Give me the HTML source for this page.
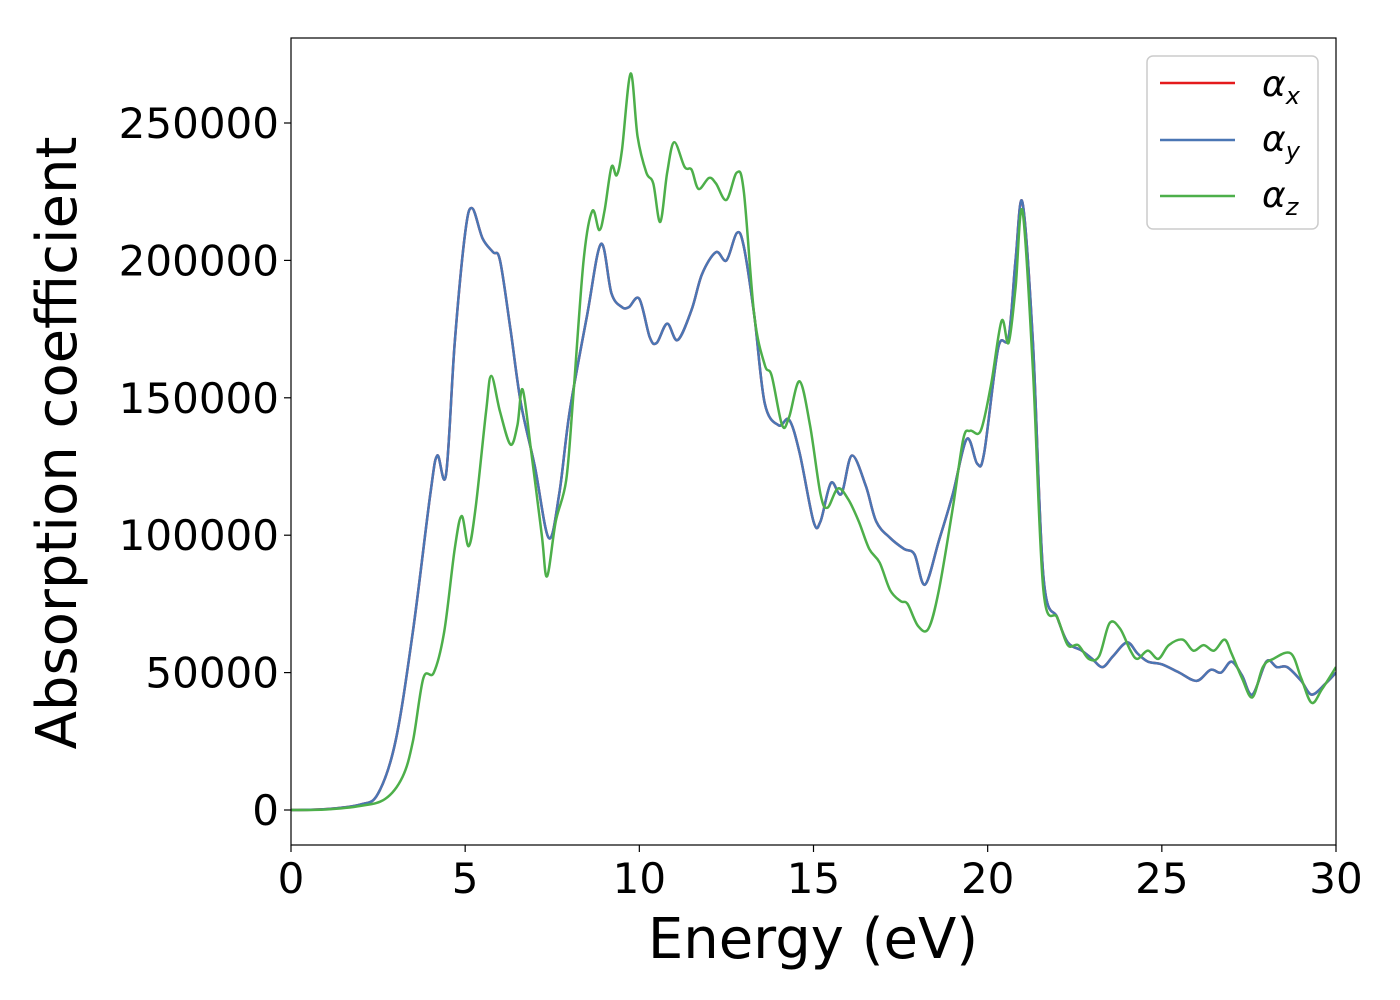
<!DOCTYPE html>
<html><head><meta charset="utf-8"><style>
body{margin:0;background:#fff;}
svg{display:block;font-family:"DejaVu Sans","Liberation Sans",sans-serif;}
</style></head><body>
<svg id="chart" width="1400" height="1000">
<rect x="0" y="0" width="1400" height="1000" fill="#fff"/>
<g id="plot"></g>
<g id="axes"></g>
<text x="813" y="958" font-size="56" text-anchor="middle">Energy (eV)</text>
<text transform="translate(76,443) rotate(-90)" font-size="56" text-anchor="middle">Absorption coefficient</text>
<g>
<rect x="1147" y="56" width="171" height="173" rx="6" fill="#fff" stroke="#ccc" stroke-width="1.5"/>
<g><line x1="1160" y1="83" x2="1235" y2="83" stroke="#e41a1c" stroke-width="2.5"/><text x="1262" y="96" font-size="36" font-style="italic">α<tspan font-size="24" dy="8">x</tspan></text></g>
<g><line x1="1160" y1="140" x2="1235" y2="140" stroke="#4a76b4" stroke-width="2.5"/><text x="1262" y="151" font-size="36" font-style="italic">α<tspan font-size="24" dy="8">y</tspan></text></g>
<g><line x1="1160" y1="196" x2="1235" y2="196" stroke="#4daf4a" stroke-width="2.5"/><text x="1262" y="207" font-size="36" font-style="italic">α<tspan font-size="24" dy="8">z</tspan></text></g>
</g>
</svg>
<script>
const energyXY=[0,1,2,2.5,3,3.5,4,4.2,4.45,4.7,5.0,5.2,5.5,5.8,6.0,6.3,6.6,7.0,7.4,7.7,8.0,8.5,8.9,9.2,9.5,9.7,10.0,10.3,10.5,10.8,11.1,11.5,11.8,12.2,12.5,12.8,13.0,13.3,13.6,14.0,14.3,14.6,15.0,15.2,15.5,15.8,16.1,16.5,16.8,17.2,17.6,17.9,18.2,18.6,19.0,19.4,19.7,19.9,20.3,20.6,20.8,21.0,21.3,21.6,22.0,22.3,22.7,23.0,23.3,23.6,24.0,24.3,24.6,25.0,25.5,26.0,26.4,26.7,27.0,27.3,27.6,28.0,28.3,28.6,29.0,29.3,29.7,30];
const alphaX=[0,300,2000,6000,25000,65000,115000,129000,122000,170000,210000,219000,208000,203000,200000,175000,148000,125000,99000,115000,145000,180000,206000,188000,183000,183000,186000,172000,170000,177000,171000,182000,195000,203000,200000,210000,205000,180000,148000,140000,142000,130000,105000,105000,119000,115000,129000,118000,105000,99000,95000,93000,82000,98000,115000,135000,126000,130000,168000,172000,200000,221000,170000,85000,70000,61000,58000,55000,52000,56000,61000,57000,54000,53000,50000,47000,51000,50000,54000,49000,42000,54000,52000,52000,47000,42000,46000,50000];
const alphaY=alphaX.slice();
const energyZ=[0,1,2,2.7,3.2,3.5,3.8,4.1,4.4,4.7,4.9,5.1,5.3,5.6,5.75,6.0,6.3,6.5,6.65,6.9,7.2,7.35,7.6,7.9,8.1,8.4,8.65,8.85,9.0,9.2,9.35,9.5,9.75,9.95,10.2,10.4,10.6,10.8,11.0,11.3,11.5,11.7,12.0,12.2,12.5,12.8,13.0,13.3,13.6,13.8,14.1,14.3,14.6,14.9,15.2,15.4,15.7,16.0,16.3,16.6,16.9,17.2,17.5,17.7,18.0,18.3,18.6,19.0,19.3,19.5,19.8,20.1,20.4,20.6,20.8,21.0,21.3,21.6,22.0,22.3,22.6,22.9,23.2,23.5,23.8,24.1,24.3,24.6,24.9,25.2,25.6,25.9,26.2,26.5,26.8,27.0,27.3,27.6,27.9,28.2,28.7,29.0,29.3,29.6,30];
const alphaZ=[0,200,1500,4000,12000,25000,48000,50000,65000,95000,107000,96000,110000,145000,158000,145000,133000,140000,153000,130000,100000,85000,105000,120000,150000,200000,218000,211000,218000,234000,231000,240000,268000,245000,232000,228000,214000,232000,243000,234000,233000,226000,230000,228000,222000,232000,225000,180000,162000,158000,140000,143000,156000,140000,115000,110000,117000,113000,105000,95000,90000,80000,76000,75000,67000,66000,80000,110000,135000,138000,138000,155000,178000,170000,190000,218000,160000,80000,70000,60000,60000,55000,56000,68000,66000,58000,55000,58000,55000,60000,62000,58000,60000,58000,62000,57000,48000,41000,52000,55000,57000,48000,39000,44000,52000];
const xTicks=[0,5,10,15,20,25,30];
const yTicks=[0,50000,100000,150000,200000,250000];

const X0=291,X1=1336,Y0=810,YT=38,YB=845;
const sx=v=>X0+(v/30)*(X1-X0);
const sy=v=>Y0-v*(687/250000);
const NS="http://www.w3.org/2000/svg";
function mk(t,a,p){const e=document.createElementNS(NS,t);for(const k in a)e.setAttribute(k,a[k]);p.appendChild(e);return e;}
function pathD(xs,ys){
  const pts=xs.map((x,i)=>[sx(x),sy(ys[i])]);
  let d="M"+pts[0][0]+","+pts[0][1];
  for(let i=0;i<pts.length-1;i++){
    const p0=pts[Math.max(0,i-1)],p1=pts[i],p2=pts[i+1],p3=pts[Math.min(pts.length-1,i+2)];
    const c1=[p1[0]+(p2[0]-p0[0])/6,p1[1]+(p2[1]-p0[1])/6];
    const c2=[p2[0]-(p3[0]-p1[0])/6,p2[1]-(p3[1]-p1[1])/6];
    d+=` C${c1[0]},${c1[1]} ${c2[0]},${c2[1]} ${p2[0]},${p2[1]}`;
  }
  return d;
}
const plot=document.getElementById("plot");
const clip=mk("clipPath",{id:"c"},mk("defs",{},plot));
mk("rect",{x:X0,y:YT,width:X1-X0,height:YB-YT},clip);
const g=mk("g",{"clip-path":"url(#c)"},plot);
const l1=mk("path",{d:pathD(energyXY,alphaX),fill:"none",stroke:"#e41a1c","stroke-width":2.5},g);


const l2=mk("path",{d:pathD(energyXY,alphaY),fill:"none",stroke:"#4a76b4","stroke-width":2.5},g);


const l3=mk("path",{d:pathD(energyZ,alphaZ),fill:"none",stroke:"#4daf4a","stroke-width":2.5},g);



const ax=document.getElementById("axes");
const fr=mk("rect",{x:X0,y:YT,width:X1-X0,height:YB-YT,fill:"none",stroke:"#000","stroke-width":1.2},ax);


xTicks.forEach(t=>{
  mk("line",{x1:sx(t),x2:sx(t),y1:YB,y2:YB+7,stroke:"#000","stroke-width":1.2},ax);
  const tx=mk("text",{x:sx(t),y:893,"font-size":42,"text-anchor":"middle"},ax);
  tx.textContent=t;
  
  
});
yTicks.forEach(t=>{
  mk("line",{x1:X0-7,x2:X0,y1:sy(t),y2:sy(t),stroke:"#000","stroke-width":1.2},ax);
  const tx=mk("text",{x:279,y:sy(t)+15,"font-size":42,"text-anchor":"end"},ax);
  tx.textContent=t;
  
  
});
</script>
</body></html>
